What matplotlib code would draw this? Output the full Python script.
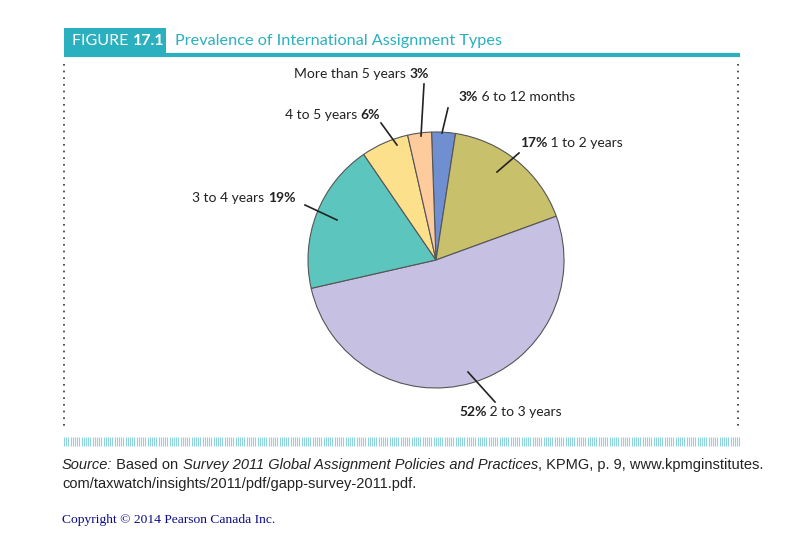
import matplotlib
matplotlib.use("Agg")
import matplotlib.pyplot as plt
import numpy as np

labels = ["6 to 12 months", "1 to 2 years", "2 to 3 years", "3 to 4 years", "4 to 5 years", "More than 5 years"]
values = [3, 17, 52, 19, 6, 3]
colors = ["#6f8fd0", "#c9c06c", "#c6c1e3", "#5cc5bd", "#fde08c", "#fdcb9c"]

W, H = 800, 541
fig = plt.figure(figsize=(8, 5.41), dpi=100)
ax = fig.add_axes([0, 0, 1, 1])
ax.set_xlim(0, W); ax.set_ylim(0, H); ax.set_aspect("equal"); ax.axis("off")
Y = lambda py: H - py
FONT = "Lato"
teal = "#2ab0bf"

ax.pie(values, colors=colors, startangle=92, counterclock=False, center=(436, Y(260)),
       radius=128, wedgeprops=dict(edgecolor="#555555", linewidth=0.8), frame=True)
ax.set_xlim(0, W); ax.set_ylim(0, H); ax.axis("off")

r = fig.canvas.get_renderer()
def chain(x, y, parts, size=10, family=FONT, color="#222222"):
    for s, w, st in parts:
        t = ax.text(x, Y(y), s, fontsize=size, fontweight=w, style=st, family=family,
                    va="center", ha="left", color=color)
        x += t.get_window_extent(r).width
    return x

N, B = "normal", "bold"
chain(294, 74, [("More than 5 years ", N, N), ("3%", B, N)])
chain(459, 97, [("3%", B, N), (" 6 to 12 months", N, N)])
chain(520, 143, [("17%", B, N), (" 1 to 2 years", N, N)])
chain(285, 115, [("4 to 5 years ", N, N), ("6%", B, N)])
chain(192, 198, [("3 to 4 years ", N, N), ("19%", B, N)])
chain(459, 412, [("52%", B, N), (" 2 to 3 years", N, N)])

for (x1, y1, x2, y2) in [(424, 84, 421, 136), (448, 108, 442, 133), (519, 153, 497, 172),
                         (381, 123, 397, 145), (305, 205, 337, 220), (468, 372, 495, 402)]:
    ax.plot([x1, x2], [Y(y1), Y(y2)], color="#222222", lw=1.2)

# header
ax.add_patch(plt.Rectangle((64, Y(55)), 102, 27, color=teal, lw=0))
ax.plot([64, 740], [Y(55), Y(55)], color=teal, lw=3, solid_capstyle="butt")
chain(72, 41, [("FIGURE ", N, N), ("17.1", B, N)], size=11.5, color="white")
ax.text(175, Y(41), "Prevalence of International Assignment Types", fontsize=11.7,
        family=FONT, color=teal, va="center")

# dotted borders
for xv in (64, 738):
    ax.plot([xv, xv], [Y(64), Y(430)], color="#333333", lw=1.2, ls=(0, (1, 3)))
# stripes
xs = np.arange(64, 740, 2.2)
ax.vlines(xs, Y(446), Y(437), color="#8fd3dc", lw=0.8)

chain(62, 465, [("Source:", N, "italic"), (" Based on ", N, N),
                ("Survey 2011 Global Assignment Policies and Practices", N, "italic"),
                (", KPMG, p. 9, www.kpmginstitutes.", N, N)], size=10.5, family="Liberation Sans")
chain(62, 484, [("com/taxwatch/insights/2011/pdf/gapp-survey-2011.pdf.", N, N)], size=10.5,
      family="Liberation Sans")
ax.text(62, Y(520), "Copyright © 2014 Pearson Canada Inc.", fontsize=9.7,
        family="Liberation Serif", color="#0a0a8a", va="center")

fig.savefig("out.png", dpi=100)
